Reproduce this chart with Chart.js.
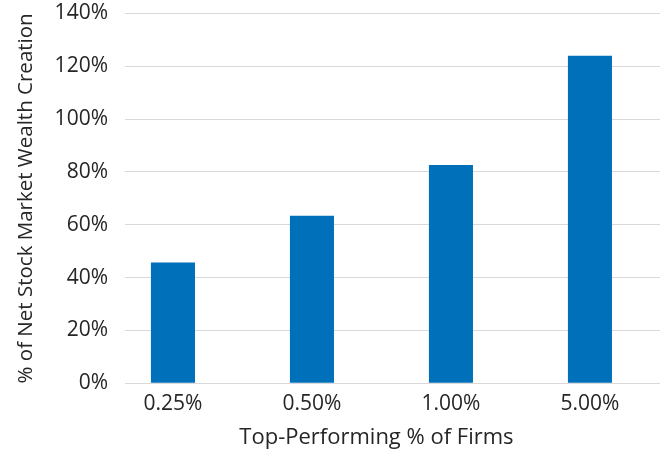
<!DOCTYPE html>
<html>
<head>
<meta charset="utf-8">
<script src="https://cdn.jsdelivr.net/npm/chart.js@4.4.1/dist/chart.umd.min.js"></script>
<style>
  html, body { margin: 0; padding: 0; background: #fff; }
  #wrap { width: 667px; height: 452px; position: relative; }
</style>
</head>
<body>
<div id="wrap"><canvas id="c" width="667" height="452"></canvas></div>
<script>
const categories = ["0.25%", "0.50%", "1.00%", "5.00%"];
const wealthShare = [45.7, 63.4, 82.6, 124.0];
const yTicks = [0, 20, 40, 60, 80, 100, 120, 140];
const xTitle = "Top-Performing % of Firms";
const yTitle = "% of Net Stock Market Wealth Creation";

const FONT = "'Open Sans', sans-serif";
const TEXT = "#262626";

const points = categories.map((c, i) => ({ x: i, y: wealthShare[i] }));

// x-axis title centred under the category span, as in the reference
const xTitlePlugin = {
  id: 'xTitle',
  afterDraw(chart) {
    const x = chart.scales.x;
    const ctx = chart.ctx;
    const cx = (x.getPixelForValue(0) + x.getPixelForValue(categories.length - 1)) / 2 - 5;
    ctx.save();
    ctx.font = "22px " + FONT;
    ctx.fillStyle = TEXT;
    ctx.textAlign = 'center';
    ctx.textBaseline = 'middle';
    ctx.fillText(xTitle, cx, x.bottom - 14);
    ctx.restore();
  }
};

new Chart(document.getElementById('c'), {
  type: 'bar',
  data: {
    datasets: [{
      data: points,
      backgroundColor: '#0070ba',
      borderWidth: 0,
      categoryPercentage: 1.0,
      barPercentage: 0.317
    }]
  },
  options: {
    responsive: false,
    animation: false,
    layout: { padding: { left: 0, right: 7, top: 13.5, bottom: 0 } },
    plugins: { legend: { display: false }, tooltip: { enabled: false } },
    scales: {
      x: {
        type: 'linear',
        offset: false,
        min: -0.345,
        max: 3.504,
        afterBuildTicks: (s) => { s.ticks = categories.map((c, i) => ({ value: i })); },
        afterFit: (s) => { s.height = 68.7; s.paddingLeft = 0; s.paddingRight = 0; },
        grid: { display: false, offset: false },
        border: { display: false },
        ticks: {
          callback: (v) => categories[v] ?? '',
          color: TEXT,
          font: { family: FONT, size: 21 },
          padding: 0,
          maxRotation: 0,
          autoSkip: false
        },
        title: { display: false }
      },
      y: {
        min: 0,
        max: 140,
        afterBuildTicks: (s) => { s.ticks = yTicks.map(v => ({ value: v })); },
        afterFit: (s) => { s.width = 125; s.paddingTop = 0; s.paddingBottom = 0; },
        grid: { color: '#d9d9d9', lineWidth: 1, drawTicks: false },
        border: { display: false },
        ticks: {
          callback: (v) => v + '%',
          color: TEXT,
          font: { family: FONT, size: 21 },
          padding: 17
        },
        title: {
          display: true,
          text: yTitle,
          color: TEXT,
          font: { family: FONT, size: 20.5 },
          padding: { top: 14, bottom: 0 }
        }
      }
    }
  },
  plugins: [xTitlePlugin]
});
</script>
</body>
</html>
